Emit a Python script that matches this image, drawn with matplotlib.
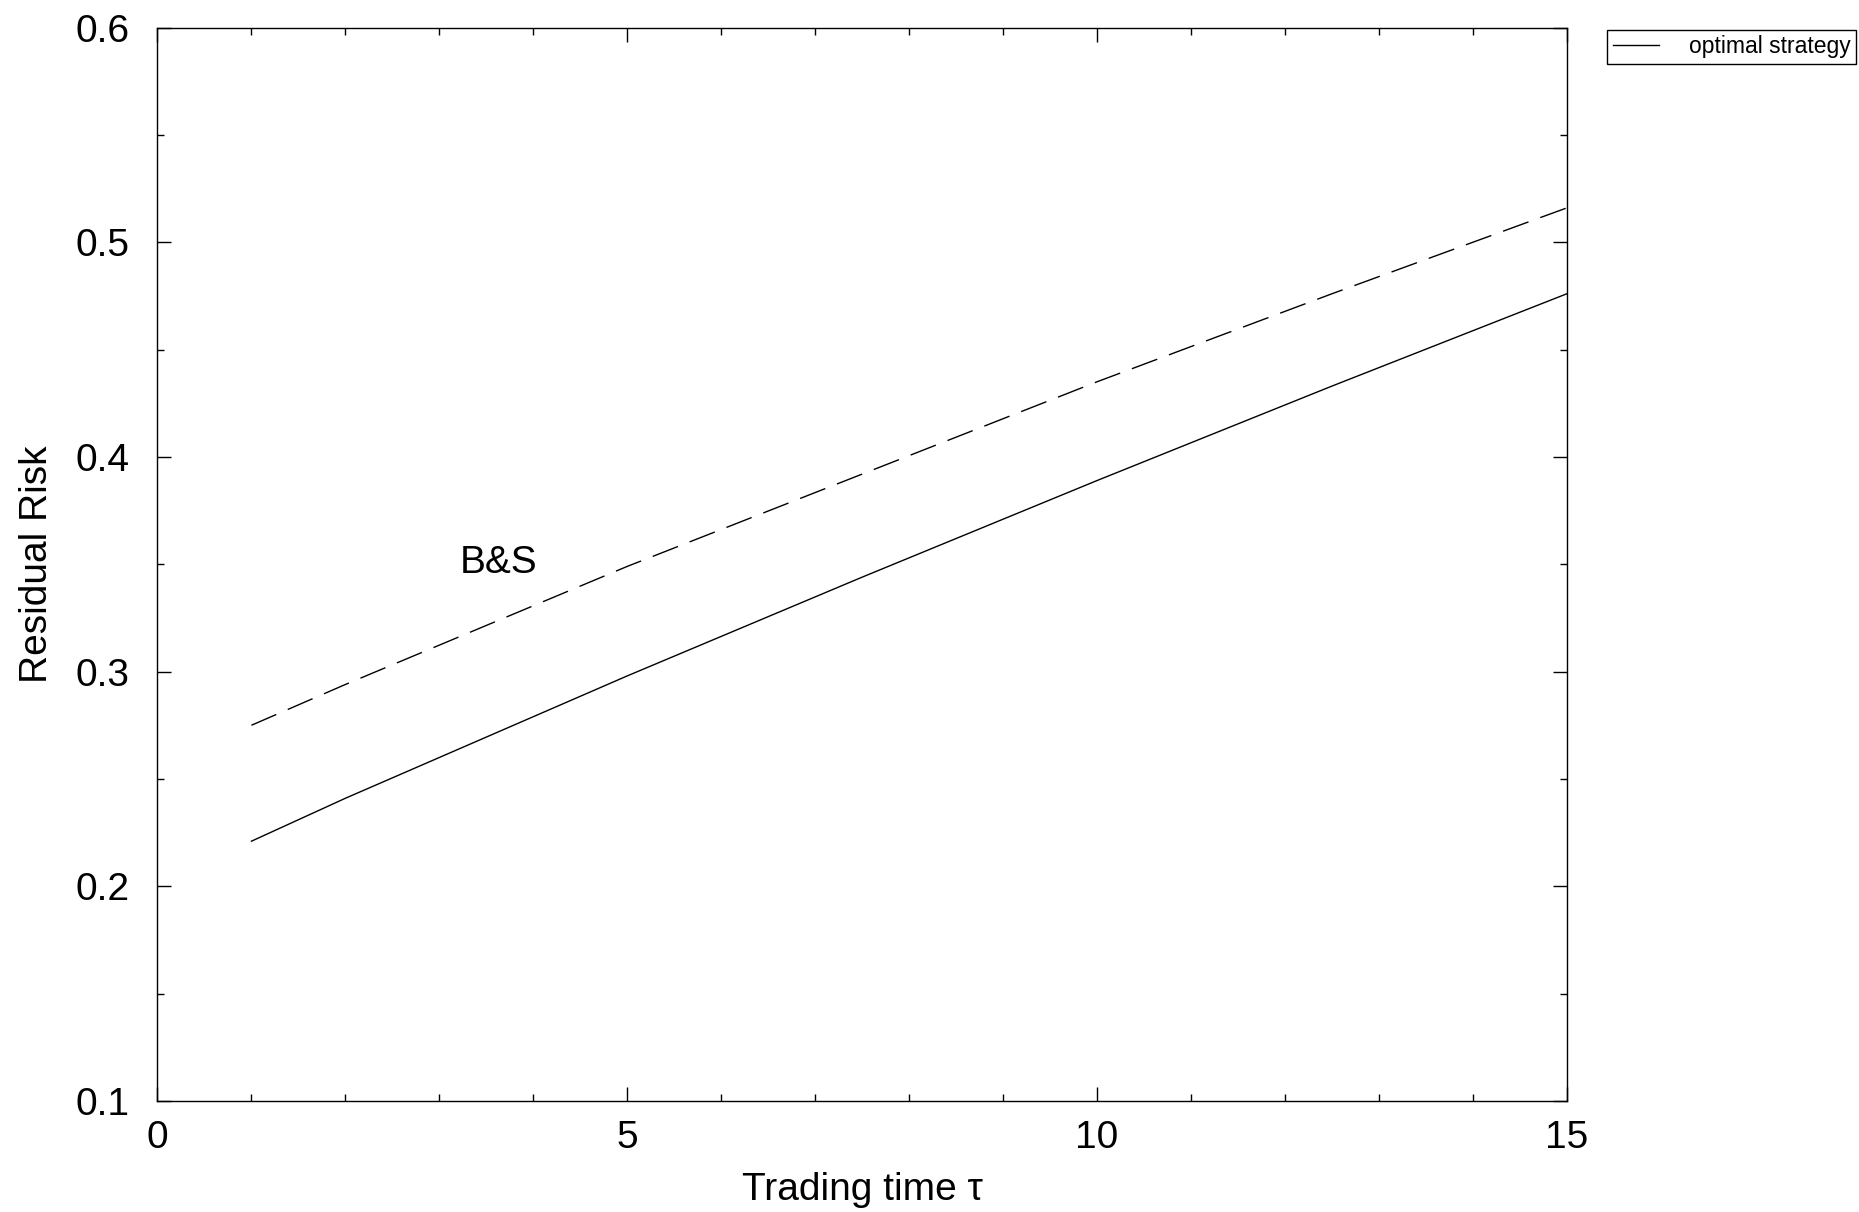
import matplotlib
matplotlib.use("Agg")
import matplotlib.pyplot as plt
from matplotlib.ticker import MultipleLocator

plt.rcParams['font.family'] = ['Liberation Sans', 'DejaVu Sans']

# Data
tau = [1, 2, 5, 7.5, 10, 12.5, 15]
optimal_risk = [0.221, 0.241, 0.298, 0.344, 0.389, 0.433, 0.476]
bs_risk = [0.275, 0.294, 0.349, 0.392, 0.435, 0.476, 0.516]

x_ticks = [0, 5, 10, 15]
y_ticks = [0.1, 0.2, 0.3, 0.4, 0.5, 0.6]

fig = plt.figure(figsize=(18.59, 12.12), dpi=100)
ax = fig.add_axes([0.0847, 0.0916, 0.7582, 0.8857])

ax.plot(tau, optimal_risk, color='black', lw=1.0, label='optimal strategy')
ln, = ax.plot(tau, bs_risk, color='black', lw=1.0)
ln.set_dashes([19.5, 9])

ax.text(3.22, 0.346, 'B&S', fontsize=28, ha='left', va='baseline')

ax.set_xlim(0, 15)
ax.set_ylim(0.1, 0.6)
ax.set_xticks(x_ticks)
ax.set_xticklabels([str(v) for v in x_ticks])
ax.set_yticks(y_ticks)
ax.set_yticklabels([f"{v:.1f}" for v in y_ticks])
ax.xaxis.set_minor_locator(MultipleLocator(1))
ax.yaxis.set_minor_locator(MultipleLocator(0.05))

ax.tick_params(which='both', direction='in', top=True, right=True, width=1.0)
ax.tick_params(which='major', length=10, labelsize=28)
ax.tick_params(axis='x', which='major', pad=14)
ax.tick_params(axis='y', which='major', pad=20)
ax.tick_params(which='minor', length=5)
for s in ax.spines.values():
    s.set_linewidth(1.0)

ax.set_xlabel('Trading time τ', fontsize=28, labelpad=11.5)
ax.set_ylabel('Residual Risk', fontsize=28, labelpad=14.5)

leg = fig.legend(loc='upper right', bbox_to_anchor=(0.9985, 0.9755), fontsize=16.5,
                 frameon=True, fancybox=False, shadow=False, framealpha=1,
                 handlelength=2.0, handletextpad=1.3, borderpad=0.25,
                 borderaxespad=0.0)
leg.get_frame().set_edgecolor('black')
leg.get_frame().set_linewidth(1.0)

fig.savefig('out.png', dpi=100)
